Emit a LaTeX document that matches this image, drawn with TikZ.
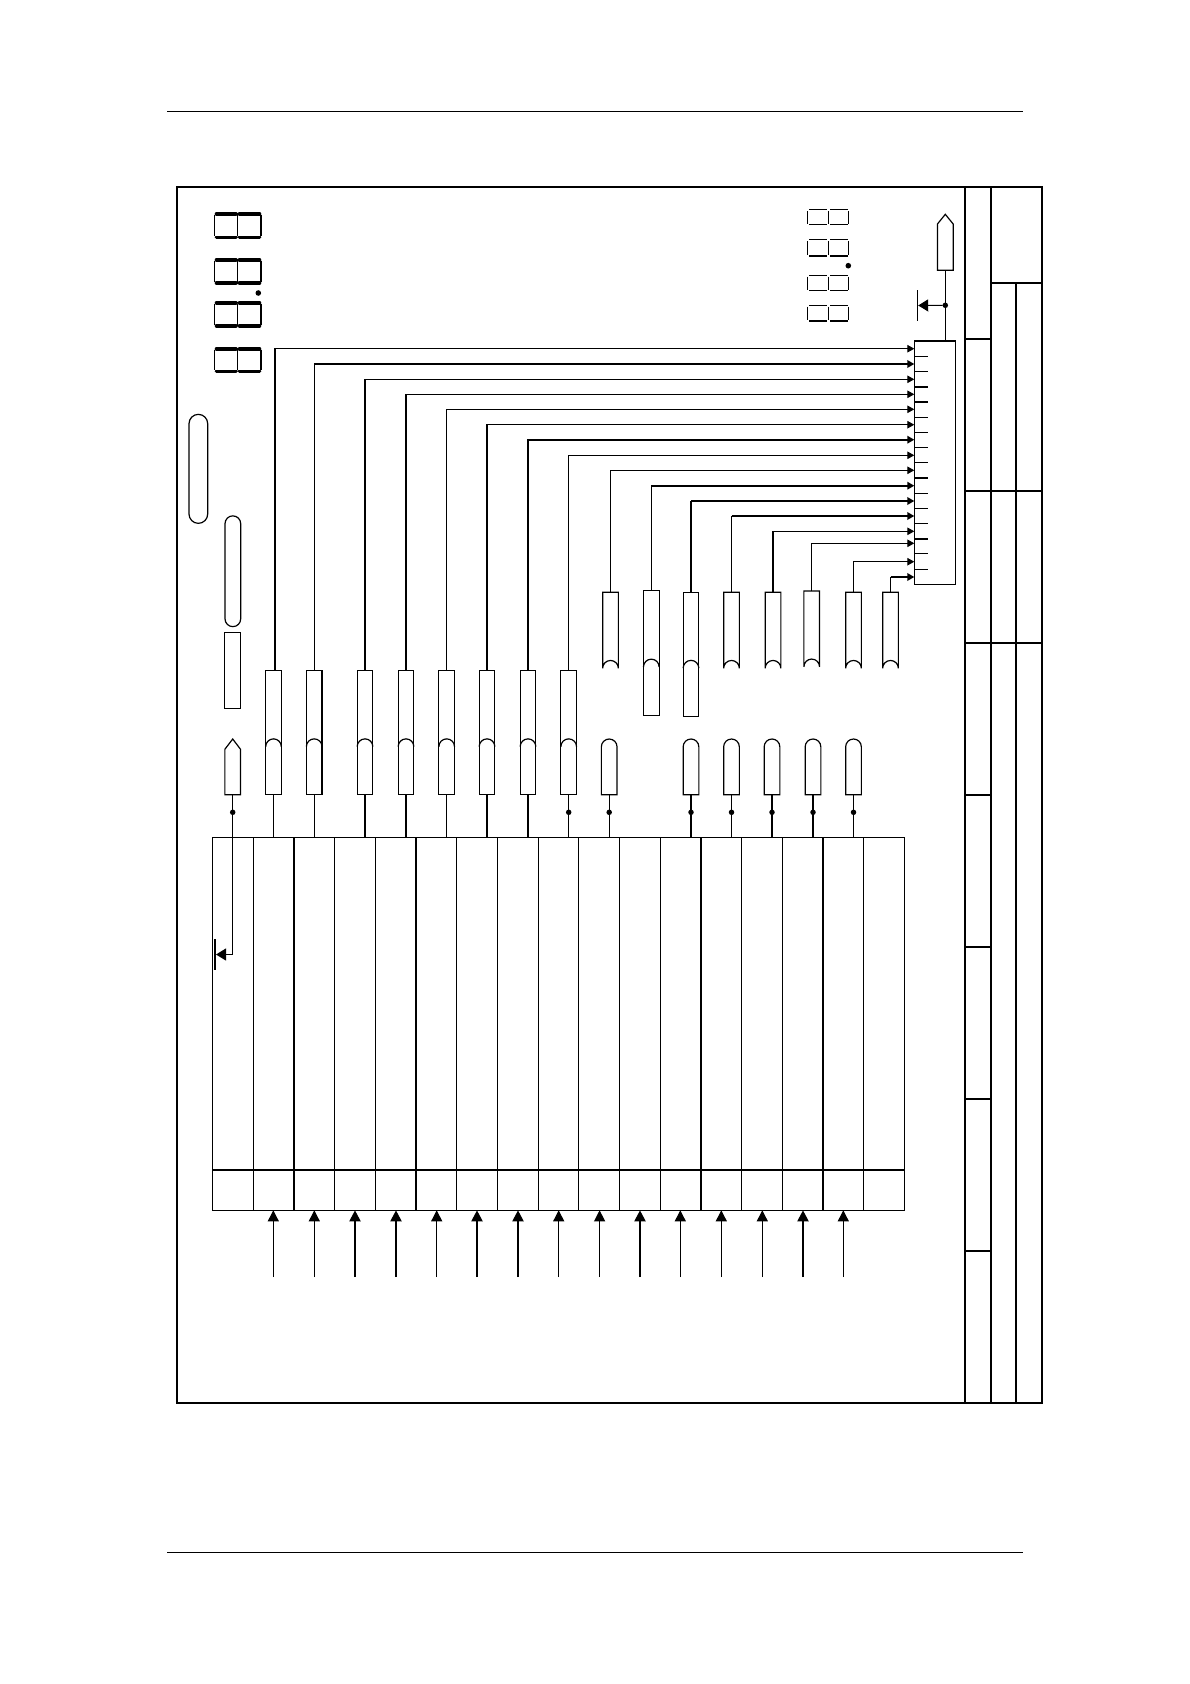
\documentclass[tikz,border=0pt]{standalone}
\usepackage{tikz}
\usetikzlibrary{arrows.meta}
\tikzset{
  frameline/.style={line width=2pt},
  wire/.style={line width=1.1pt},
  wirethick/.style={line width=2pt},
  arrowin/.style={-{Triangle[length=7pt,width=7.5pt]}},
  arrowup/.style={-{Triangle[length=11pt,width=11pt]}},
  arrowgnd/.style={-{Triangle[length=10pt,width=12pt]}},
  barbox/.style={draw,line width=1.2pt,inner sep=0pt,outer sep=0pt,minimum width=15.7pt},
  barshape/.style={inner sep=0pt,outer sep=0pt,minimum width=15.7pt},
  barline/.style={line width=1.2pt},
  junction/.style={circle,fill=black,inner sep=0pt,outer sep=0pt,minimum size=5.5pt},
  gndbar/.style={fill=black,inner sep=0pt,outer sep=0pt,minimum width=2pt},
  segbig/.style={line width=3.6pt,line cap=round},
  segbigside/.style={line width=1.3pt},
  segsmall/.style={line width=1.5pt},
  segsmallside/.style={line width=1pt}
}
\begin{document}
\begin{tikzpicture}[x=1pt,y=1pt]
\useasboundingbox (0,0) rectangle (1190,-1684);
\fill [white] (0,0) rectangle (1190,-1684);
% page rules
\draw [line width=1pt] (167,-111) -- (1023,-111);
\draw [line width=1pt] (167,-1552.5) -- (1023,-1552.5);
% frame and title columns
\draw [frameline] (177,-187) rectangle (1042,-1403);
\draw [frameline] (965,-187) -- (965,-1403);
\draw [frameline] (991,-187) -- (991,-1403);
\draw [frameline] (1016,-283) -- (1016,-1403);
\draw [frameline] (991,-283) -- (1042,-283);
\draw [frameline] (965,-339) -- (991,-339);
\draw [frameline] (965,-491) -- (1042,-491);
\draw [frameline] (965,-643) -- (1042,-643);
\draw [frameline] (965,-795) -- (991,-795);
\draw [frameline] (965,-947) -- (991,-947);
\draw [frameline] (965,-1099) -- (991,-1099);
\draw [frameline] (965,-1251) -- (991,-1251);
% big digits
\draw [segbig] (216.5,-214) -- (236,-214) (239.5,-214) -- (259.5,-214) (216.5,-237.3) -- (236,-237.3) (239.5,-237.3) -- (259.5,-237.3);
\draw [segbigside] (214.5,-215) -- (214.5,-236) (237.7,-215) -- (237.7,-236) (261,-215) -- (261,-236);
\draw [segbig] (216.5,-260) -- (236,-260) (239.5,-260) -- (259.5,-260) (216.5,-283) -- (236,-283) (239.5,-283) -- (259.5,-283);
\draw [segbigside] (214.5,-261) -- (214.5,-282) (237.7,-261) -- (237.7,-282) (261,-261) -- (261,-282);
\draw [segbig] (216.5,-302.7) -- (236,-302.7) (239.5,-302.7) -- (259.5,-302.7) (216.5,-325.7) -- (236,-325.7) (239.5,-325.7) -- (259.5,-325.7);
\draw [segbigside] (214.5,-304) -- (214.5,-325) (237.7,-304) -- (237.7,-325) (261,-304) -- (261,-325);
\draw [segbig] (216.5,-349) -- (236,-349) (239.5,-349) -- (259.5,-349) (216.5,-371.3) -- (236,-371.3) (239.5,-371.3) -- (259.5,-371.3);
\draw [segbigside] (214.5,-350) -- (214.5,-370) (237.7,-350) -- (237.7,-370) (261,-350) -- (261,-370);
\fill [black] (258.3,-293) circle (2.8);
% small digits
\draw [segsmall] (809,-209.7) -- (827,-209.7) (830,-209.7) -- (847.5,-209.7) (809,-224.7) -- (827,-224.7) (830,-224.7) -- (847.5,-224.7);
\draw [segsmallside] (807.5,-211) -- (807.5,-223.5) (828.5,-211) -- (828.5,-223.5) (848.7,-211) -- (848.7,-223.5);
\draw [segsmall] (809,-239.7) -- (827,-239.7) (830,-239.7) -- (847.5,-239.7) (809,-256) -- (827,-256) (830,-256) -- (847.5,-256);
\draw [segsmallside] (807.5,-241) -- (807.5,-254.5) (828.5,-241) -- (828.5,-254.5) (848.7,-241) -- (848.7,-254.5);
\draw [segsmall] (809,-275.3) -- (827,-275.3) (830,-275.3) -- (847.5,-275.3) (809,-290.7) -- (827,-290.7) (830,-290.7) -- (847.5,-290.7);
\draw [segsmallside] (807.5,-276.5) -- (807.5,-289.5) (828.5,-276.5) -- (828.5,-289.5) (848.7,-276.5) -- (848.7,-289.5);
\draw [segsmall] (809,-305.3) -- (827,-305.3) (830,-305.3) -- (847.5,-305.3) (809,-321) -- (827,-321) (830,-321) -- (847.5,-321);
\draw [segsmallside] (807.5,-306.5) -- (807.5,-319.5) (828.5,-306.5) -- (828.5,-319.5) (848.7,-306.5) -- (848.7,-319.5);
\fill [black] (848.3,-265.7) circle (2.8);
% pills on the left
\draw [barline] (189,-423.7) arc (180:0:9.35) -- (207.7,-514) arc (360:180:9.35) -- cycle;
\draw [barline] (225,-523.7) arc (180:0:7.85) -- (240.7,-618.8) arc (360:180:7.85) -- cycle;
\node [barbox,minimum height=75.6pt] (padrect) at (232.7,-670.5) {};
% table
\node [draw,line width=1pt,inner sep=0pt,outer sep=0pt,minimum width=692.4pt,minimum height=373pt] (tbl) at (558.5,-1023.8) {};
\draw [line width=1.8pt] (212.3,-1170) -- (904.7,-1170);
\draw [line width=1pt] (253,-837.3) -- (253,-1210.3);
\draw [line width=1.8pt] (294,-837.3) -- (294,-1210.3);
\draw [line width=1pt] (334.7,-837.3) -- (334.7,-1210.3);
\draw [line width=1pt] (375.5,-837.3) -- (375.5,-1210.3);
\draw [line width=1.8pt] (416,-837.3) -- (416,-1210.3);
\draw [line width=1pt] (456.7,-837.3) -- (456.7,-1210.3);
\draw [line width=1pt] (497.4,-837.3) -- (497.4,-1210.3);
\draw [line width=1pt] (538.3,-837.3) -- (538.3,-1210.3);
\draw [line width=1pt] (578.8,-837.3) -- (578.8,-1210.3);
\draw [line width=1pt] (619.3,-837.3) -- (619.3,-1210.3);
\draw [line width=1pt] (660.2,-837.3) -- (660.2,-1210.3);
\draw [line width=1.8pt] (700.8,-837.3) -- (700.8,-1210.3);
\draw [line width=1pt] (741.6,-837.3) -- (741.6,-1210.3);
\draw [line width=1pt] (782.3,-837.3) -- (782.3,-1210.3);
\draw [line width=1.8pt] (823,-837.3) -- (823,-1210.3);
\draw [line width=1pt] (863.7,-837.3) -- (863.7,-1210.3);
% inputs under the table
\coordinate (in1) at (273.3,-1277);
\coordinate (in2) at (314.3,-1277);
\coordinate (in3) at (355,-1277);
\coordinate (in4) at (396,-1277);
\coordinate (in5) at (436.7,-1277);
\coordinate (in6) at (477,-1277);
\coordinate (in7) at (518,-1277);
\coordinate (in8) at (558.7,-1277);
\coordinate (in9) at (599.6,-1277);
\coordinate (in10) at (640,-1277);
\coordinate (in11) at (680.3,-1277);
\coordinate (in12) at (721.3,-1277);
\coordinate (in13) at (762.3,-1277);
\coordinate (in14) at (803,-1277);
\coordinate (in15) at (843.3,-1277);
\draw [wire,arrowup] (in1) -- (in1 |- tbl.south);
\draw [wire,arrowup] (in2) -- (in2 |- tbl.south);
\draw [wirethick,arrowup] (in3) -- (in3 |- tbl.south);
\draw [wirethick,arrowup] (in4) -- (in4 |- tbl.south);
\draw [wire,arrowup] (in5) -- (in5 |- tbl.south);
\draw [wirethick,arrowup] (in6) -- (in6 |- tbl.south);
\draw [wirethick,arrowup] (in7) -- (in7 |- tbl.south);
\draw [wire,arrowup] (in8) -- (in8 |- tbl.south);
\draw [wire,arrowup] (in9) -- (in9 |- tbl.south);
\draw [wirethick,arrowup] (in10) -- (in10 |- tbl.south);
\draw [wire,arrowup] (in11) -- (in11 |- tbl.south);
\draw [wire,arrowup] (in12) -- (in12 |- tbl.south);
\draw [wire,arrowup] (in13) -- (in13 |- tbl.south);
\draw [wirethick,arrowup] (in14) -- (in14 |- tbl.south);
\draw [wire,arrowup] (in15) -- (in15 |- tbl.south);
% left end marker with ground
\node [barshape,minimum height=55.7pt] (endL) at (232.7,-766.85) {};
\draw [barline] (endL.south west) -- (endL.west |- 0,-749.3) -- (endL.north) -- (endL.east |- 0,-749.3) -- (endL.south east) -- cycle;
\node [junction] (dotL) at (232.7,-812.3) {};
\node [gndbar,minimum height=31pt] (gndL) at (215,-954.5) {};
\draw [wire] (endL.south) -- (dotL);
\draw [wire,arrowgnd] (dotL) |- (gndL.east);
% right end marker with ground
\node [barshape,minimum height=56pt] (endR) at (945.3,-242.3) {};
\draw [barline] (endR.south west) -- (endR.west |- 0,-224) -- (endR.north) -- (endR.east |- 0,-224) -- (endR.south east) -- cycle;
\node [junction] (dotR) at (945.3,-305.3) {};
\node [gndbar,minimum width=1pt,minimum height=31pt] (gndR) at (917.7,-305.5) {};
\node [draw,line width=1.2pt,inner sep=0pt,outer sep=0pt,minimum width=41pt,minimum height=243.3pt] (conn) at (934.8,-462.65) {};
\draw [wire] (endR.south) -- (dotR);
\draw [wire] (dotR) -- (dotR |- conn.north);
\draw [wire,arrowgnd] (dotR) -- (gndR.east);
% ticks in the connector
\draw [line width=1pt] (914.3,-356.3) -- (928,-356.3);
\draw [line width=1pt] (914.3,-371.5) -- (928,-371.5);
\draw [wirethick] (914.3,-386.7) -- (928,-386.7);
\draw [wirethick] (914.3,-401.9) -- (928,-401.9);
\draw [line width=1pt] (914.3,-417.1) -- (928,-417.1);
\draw [line width=1pt] (914.3,-432.3) -- (928,-432.3);
\draw [line width=1pt] (914.3,-447.5) -- (928,-447.5);
\draw [line width=1pt] (914.3,-462.7) -- (928,-462.7);
\draw [wirethick] (914.3,-477.9) -- (928,-477.9);
\draw [line width=1pt] (914.3,-493.1) -- (928,-493.1);
\draw [line width=1pt] (914.3,-508.3) -- (928,-508.3);
\draw [line width=1pt] (914.3,-523.5) -- (928,-523.5);
\draw [wirethick] (914.3,-538.7) -- (928,-538.7);
\draw [line width=1pt] (914.3,-553.9) -- (928,-553.9);
\draw [line width=1pt] (914.3,-569.1) -- (928,-569.1);
% connector pins
\coordinate (pin1) at (914.3,-348.7);
\coordinate (pin2) at (914.3,-364);
\coordinate (pin3) at (914.3,-379.3);
\coordinate (pin4) at (914.3,-394.3);
\coordinate (pin5) at (914.3,-409.3);
\coordinate (pin6) at (914.3,-424.7);
\coordinate (pin7) at (914.3,-439.7);
\coordinate (pin8) at (914.3,-455.3);
\coordinate (pin9) at (914.3,-470.3);
\coordinate (pin10) at (914.3,-485.7);
\coordinate (pin11) at (914.3,-501);
\coordinate (pin12) at (914.3,-516);
\coordinate (pin13) at (914.3,-531.3);
\coordinate (pin14) at (914.3,-543.3);
\coordinate (pin15) at (914.3,-561.7);
\coordinate (pin16) at (914.3,-577);
% first row of long bars
\node [barbox,minimum height=124pt] (barA1) at (273.5,-732.7) {};
\node [barbox,minimum height=124pt] (barA2) at (314.2,-732.7) {};
\node [barbox,minimum height=124pt] (barA3) at (365,-732.7) {};
\node [barbox,minimum height=124pt] (barA4) at (406,-732.7) {};
\node [barbox,minimum height=124pt] (barA5) at (446.7,-732.7) {};
\node [barbox,minimum height=124pt] (barA6) at (487,-732.7) {};
\node [barbox,minimum height=124pt] (barA7) at (528,-732.7) {};
\node [barbox,minimum height=124pt] (barA8) at (568.7,-732.7) {};
\draw [barline] (barA1.west |- 0,-746.7) arc (180:0:7.85);
\draw [barline] (barA2.west |- 0,-746.7) arc (180:0:7.85);
\draw [barline] (barA3.west |- 0,-746.7) arc (180:0:7.85);
\draw [barline] (barA4.west |- 0,-746.7) arc (180:0:7.85);
\draw [barline] (barA5.west |- 0,-746.7) arc (180:0:7.85);
\draw [barline] (barA6.west |- 0,-746.7) arc (180:0:7.85);
\draw [barline] (barA7.west |- 0,-746.7) arc (180:0:7.85);
\draw [barline] (barA8.west |- 0,-746.7) arc (180:0:7.85);
\node [junction] (dotA8) at (568.7,-812.3) {};
\draw [wire] (barA1.south) -- (barA1.south |- tbl.north);
\draw [wire] (barA2.south) -- (barA2.south |- tbl.north);
\draw [wire] (barA3.south) -- (barA3.south |- tbl.north);
\draw [wire] (barA4.south) -- (barA4.south |- tbl.north);
\draw [wire] (barA5.south) -- (barA5.south |- tbl.north);
\draw [wire] (barA6.south) -- (barA6.south |- tbl.north);
\draw [wire] (barA7.south) -- (barA7.south |- tbl.north);
\draw [wire] (barA8.south) -- (dotA8);
\draw [wire] (dotA8) -- (dotA8 |- tbl.north);
\coordinate (kinkA1) at (275,-426.7);
\draw [line width=1.4pt] (barA1.north -| kinkA1) -- (kinkA1);
\draw [wire,arrowin] (kinkA1) |- (pin1);
\draw [line width=1.4pt] (barA2.north) -- (pin2 -| barA2.north);
\draw [wirethick,arrowin] (pin2 -| barA2.north) -- (pin2);
\draw [wirethick] (barA3.north) -- (pin3 -| barA3.north);
\draw [wire,arrowin] (pin3 -| barA3.north) -- (pin3);
\draw [wirethick] (barA4.north) -- (pin4 -| barA4.north);
\draw [wire,arrowin] (pin4 -| barA4.north) -- (pin4);
\draw [wire,arrowin] (barA5.north) |- (pin5);
\draw [wire,arrowin] (barA6.north) |- (pin6);
\draw [wirethick,arrowin] (barA7.north) |- (pin7);
\draw [wire,arrowin] (barA8.north) |- (pin8);
% second row of bars
\node [barshape,minimum height=76pt] (barB1) at (610.5,-630.3) {};
\node [barbox,minimum height=124.6pt] (barB2) at (651.3,-653) {};
\node [barbox,minimum height=124pt] (barB3) at (691,-654.3) {};
\node [barshape,minimum height=76pt] (barB4) at (731.5,-630.3) {};
\node [barshape,minimum height=76pt] (barB5) at (773,-630.3) {};
\node [barshape,minimum height=76pt] (barB6) at (811.7,-628.9) {};
\node [barshape,minimum height=76pt] (barB7) at (853.5,-630.3) {};
\node [barshape,minimum height=76pt] (barB8) at (890.5,-630.3) {};
\draw [barline] (barB1.south west) -- (barB1.north west) -- (barB1.north east) -- (barB1.south east) arc (0:180:7.85);
\draw [barline] (barB2.west |- 0,-667) arc (180:0:7.85);
\draw [barline] (barB3.west |- 0,-668.2) arc (180:0:7.85);
\draw [barline] (barB4.south west) -- (barB4.north west) -- (barB4.north east) -- (barB4.south east) arc (0:180:7.85);
\draw [barline] (barB5.south west) -- (barB5.north west) -- (barB5.north east) -- (barB5.south east) arc (0:180:7.85);
\draw [barline] (barB6.south west) -- (barB6.north west) -- (barB6.north east) -- (barB6.south east) arc (0:180:7.85);
\draw [barline] (barB7.south west) -- (barB7.north west) -- (barB7.north east) -- (barB7.south east) arc (0:180:7.85);
\draw [barline] (barB8.south west) -- (barB8.north west) -- (barB8.north east) -- (barB8.south east) arc (0:180:7.85);
\draw [wire,arrowin] (barB1.north) |- (pin9);
\draw [wirethick,arrowin] (pin10 -| barB2.north) -- (pin10);
\draw [wire] (barB2.north) -- (pin10 -| barB2.north);
\draw [wirethick,arrowin] (pin11 -| barB3.north) -- (pin11);
\draw [wire] (barB3.north) -- (pin11 -| barB3.north);
\draw [wirethick,arrowin] (pin12 -| barB4.north) -- (pin12);
\draw [wire] (barB4.north) -- (pin12 -| barB4.north);
\draw [wirethick] (barB5.north) -- (pin13 -| barB5.north);
\draw [wire,arrowin] (pin13 -| barB5.north) -- (pin13);
\draw [wire,arrowin] (barB6.north) |- (pin14);
\draw [wire,arrowin] (barB7.north) |- (pin15);
\draw [wire] (barB8.north) -- (pin16 -| barB8.north);
\draw [wirethick,arrowin] (pin16 -| barB8.north) -- (pin16);
% row of short pills
\node [barshape,minimum height=55.7pt] (pillC1) at (609.2,-766.85) {};
\node [barshape,minimum height=55.7pt] (pillC2) at (691,-766.85) {};
\node [barshape,minimum height=55.7pt] (pillC3) at (731.5,-766.85) {};
\node [barshape,minimum height=55.7pt] (pillC4) at (772,-766.85) {};
\node [barshape,minimum height=55.7pt] (pillC5) at (813,-766.85) {};
\node [barshape,minimum height=55.7pt] (pillC6) at (853.5,-766.85) {};
\draw [barline] (pillC1.south west) -- ++(0,47.85) arc (180:0:7.85) -- (pillC1.south east) -- cycle;
\draw [barline] (pillC2.south west) -- ++(0,47.85) arc (180:0:7.85) -- (pillC2.south east) -- cycle;
\draw [barline] (pillC3.south west) -- ++(0,47.85) arc (180:0:7.85) -- (pillC3.south east) -- cycle;
\draw [barline] (pillC4.south west) -- ++(0,47.85) arc (180:0:7.85) -- (pillC4.south east) -- cycle;
\draw [barline] (pillC5.south west) -- ++(0,47.85) arc (180:0:7.85) -- (pillC5.south east) -- cycle;
\draw [barline] (pillC6.south west) -- ++(0,47.85) arc (180:0:7.85) -- (pillC6.south east) -- cycle;
\node [junction] (dotC1) at (609.2,-812.3) {};
\node [junction] (dotC2) at (691,-812.3) {};
\node [junction] (dotC3) at (731.5,-812.3) {};
\node [junction] (dotC4) at (772,-812.3) {};
\node [junction] (dotC5) at (813,-812.3) {};
\node [junction] (dotC6) at (853.5,-812.3) {};
\draw [wire] (pillC1.south) -- (dotC1 |- tbl.north);
\draw [wire] (pillC2.south) -- (dotC2 |- tbl.north);
\draw [wire] (pillC3.south) -- (dotC3 |- tbl.north);
\draw [wire] (pillC4.south) -- (dotC4 |- tbl.north);
\draw [wirethick] (pillC5.south) -- (dotC5 |- tbl.north);
\draw [wire] (pillC6.south) -- (dotC6 |- tbl.north);
\end{tikzpicture}
\end{document}
